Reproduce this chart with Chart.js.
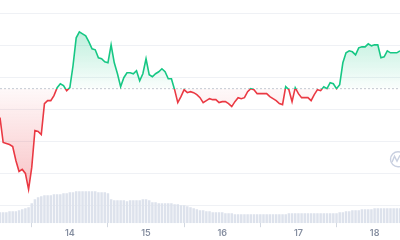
<!DOCTYPE html>
<html>
<head>
<meta charset="utf-8">
<script src="https://cdn.jsdelivr.net/npm/chart.js@4/dist/chart.umd.min.js"></script>
<style>
  html, body { margin: 0; padding: 0; background: #fff; }
  #wrap { width: 400px; height: 240px; }
</style>
</head>
<body>
<div id="wrap"><canvas id="c" width="400" height="240"></canvas></div>
<script>
// hourly series, hour 0 = the 13th at 02:00
const startDay = 13;
const startHour = 2;
const dayLabels = ['14', '15', '16', '17', '18'];

const prices = [
  120, 95, 94, 93, 91, 77, 66, 68, 64, 48,
  70, 107, 106, 103, 134, 137, 137, 142, 150, 154,
  152, 147, 150, 172, 200, 206, 204, 202, 196, 189,
  188, 180, 179, 176, 175, 193, 175, 164, 151, 160,
  165, 165, 164, 167, 157, 164, 179, 163, 161, 164,
  166, 169, 166, 159, 159, 148, 135, 141, 148, 145,
  146, 145, 143, 140, 135, 137, 139, 138, 138, 135,
  136, 136, 134, 131, 136, 140, 139, 140, 146, 149,
  148, 144, 144, 144, 144, 141, 139, 137, 134, 133,
  151, 148, 136, 150, 144, 140, 140, 140, 137, 143,
  148, 147, 151, 149, 155, 154, 149, 153, 175, 185,
  187, 186, 183, 190, 191, 191, 194, 192, 193, 193,
  180, 181, 187, 185, 185, 185, 187
];

const volumes = [
  11, 11, 11, 12, 12, 12, 13, 14, 15, 16,
  20, 24, 26, 27, 28, 28, 28, 29, 29, 29,
  30, 30, 31, 31, 32, 32, 32, 32, 32, 32,
  32, 31, 31, 31, 30, 24, 23, 23, 23, 23,
  22, 23, 23, 23, 23, 24, 24, 23, 21, 21,
  20, 20, 20, 20, 20, 19, 19, 18, 18, 17,
  16, 15, 14, 13, 13, 12, 12, 11, 11, 11,
  11, 10, 10, 10, 9, 9, 9, 9, 9, 9,
  9, 9, 9, 9, 9, 9, 9, 9, 9, 9,
  9, 10, 10, 10, 10, 10, 10, 10, 10, 10,
  10, 10, 10, 10, 10, 10, 10, 11, 11, 12,
  12, 13, 13, 13, 14, 14, 14, 14, 15, 15,
  15, 15, 15, 15, 15, 15, 15
];

const baselinePrice = 149;
const priceGrid = [32, 64, 96, 128, 160, 192, 224];

const GREEN = '#16c784';
const RED = '#ea3943';

function dayTickHours() {
  return dayLabels.map(d => (parseInt(d, 10) - startDay) * 24 - startHour);
}

function lineColor(ctx) {
  const chart = ctx.chart;
  const area = chart.chartArea;
  if (!area) return GREEN;
  const yb = chart.scales.y.getPixelForValue(baselinePrice);
  const f = Math.min(1, Math.max(0, (yb - area.top) / (area.bottom - area.top)));
  const g = chart.ctx.createLinearGradient(0, area.top, 0, area.bottom);
  g.addColorStop(0, GREEN);
  g.addColorStop(f, GREEN);
  g.addColorStop(f, RED);
  g.addColorStop(1, RED);
  return g;
}

function fillAbove(ctx) {
  const chart = ctx.chart;
  if (!chart.chartArea) return 'rgba(22,199,132,0.15)';
  const s = chart.scales.y;
  const top = s.getPixelForValue(Math.max(...prices));
  const yb = s.getPixelForValue(baselinePrice);
  const g = chart.ctx.createLinearGradient(0, top, 0, yb);
  g.addColorStop(0, 'rgba(22,199,132,0.28)');
  g.addColorStop(1, 'rgba(22,199,132,0.02)');
  return g;
}

function fillBelow(ctx) {
  const chart = ctx.chart;
  if (!chart.chartArea) return 'rgba(234,57,67,0.15)';
  const s = chart.scales.y;
  const yb = s.getPixelForValue(baselinePrice);
  const bot = s.getPixelForValue(Math.min(...prices));
  const g = chart.ctx.createLinearGradient(0, yb, 0, bot);
  g.addColorStop(0, 'rgba(234,57,67,0.03)');
  g.addColorStop(1, 'rgba(234,57,67,0.30)');
  return g;
}

// faint logo in the lower right corner
const watermark = {
  id: 'watermark',
  beforeDatasetsDraw(chart) {
    const c = chart.ctx;
    const a = chart.chartArea;
    const cx = a.right - 2, cy = a.bottom - 64;
    c.save();
    c.strokeStyle = '#c9d0e0';
    c.lineWidth = 1.4;
    c.beginPath();
    c.arc(cx, cy, 7.5, 0, Math.PI * 2);
    c.stroke();
    c.beginPath();
    c.moveTo(cx - 6, cy + 3);
    c.lineTo(cx - 3.5, cy - 3);
    c.lineTo(cx - 1, cy + 2);
    c.lineTo(cx + 2, cy - 4);
    c.stroke();
    c.restore();
  }
};

const hours = prices.map((_, i) => i);

new Chart(document.getElementById('c'), {
  type: 'line',
  data: {
    datasets: [
      {
        label: 'baseline',
        data: [
          { x: hours[0], y: baselinePrice },
          { x: hours[hours.length - 1], y: baselinePrice },
        ],
        borderColor: '#c3c8d2',
        borderWidth: 1,
        borderDash: [2, 2],
        pointRadius: 0,
        fill: false,
        yAxisID: 'y',
        order: 1,
      },
      {
        label: 'price',
        data: prices.map((p, i) => ({ x: hours[i], y: p })),
        borderColor: lineColor,
        borderWidth: 1.6,
        pointRadius: 0,
        tension: 0,
        fill: { target: { value: baselinePrice }, above: fillAbove, below: fillBelow },
        yAxisID: 'y',
        order: 0,
      },
      {
        type: 'bar',
        label: 'volume',
        data: volumes.map((v, i) => ({ x: hours[i], y: v })),
        backgroundColor: '#dde2ec',
        barPercentage: 0.78,
        categoryPercentage: 1,
        yAxisID: 'yv',
        order: 2,
      },
    ],
  },
  options: {
    responsive: false,
    animation: false,
    layout: { padding: 0 },
    plugins: { legend: { display: false }, tooltip: { enabled: false } },
    scales: {
      x: {
        type: 'linear',
        min: 0,
        max: hours[hours.length - 1],
        offset: false,
        afterBuildTicks: s => { s.ticks = dayTickHours().map(v => ({ value: v })); },
        ticks: {
          autoSkip: false,
          maxRotation: 0,
          padding: 1,
          color: '#858ea0',
          font: { family: 'Inter', size: 9, weight: '600' },
          callback: (v, i) => dayLabels[i],
        },
        grid: { drawOnChartArea: false, drawTicks: true, tickLength: 4, color: '#d3d8e1' },
        border: { display: false },
      },
      y: {
        min: 14,
        max: 238,
        afterBuildTicks: s => { s.ticks = priceGrid.map(v => ({ value: v })); },
        ticks: { display: false },
        grid: { color: '#eff1f5', drawTicks: false },
        border: { display: false },
      },
      yv: {
        display: false,
        min: 0,
        max: 224,
      },
    },
  },
  plugins: [watermark],
});
</script>
</body>
</html>
